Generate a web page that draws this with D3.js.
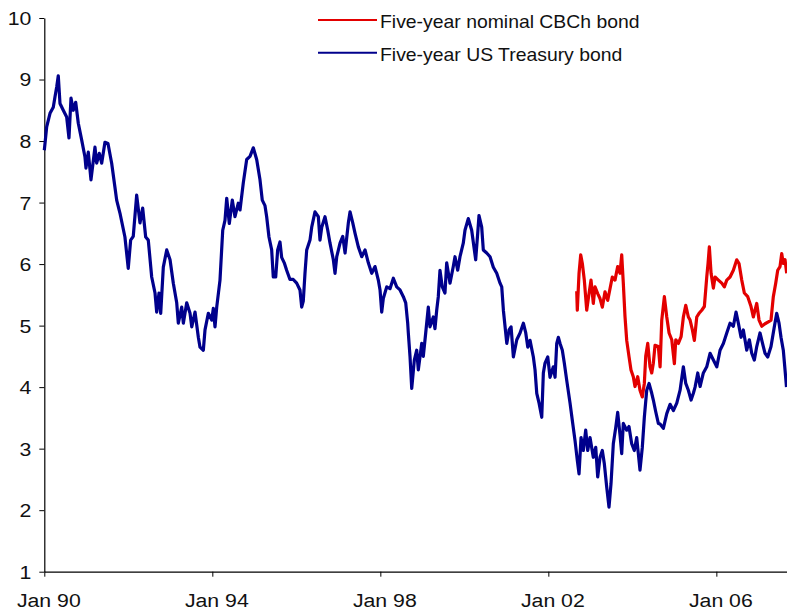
<!DOCTYPE html>
<html>
<head>
<meta charset="utf-8">
<script src="https://cdn.jsdelivr.net/npm/d3@7/dist/d3.min.js"></script>
<style>
  html, body { margin: 0; padding: 0; background: #fff; }
  svg { display: block; }
  text { font-family: "Liberation Sans", Arial, sans-serif; fill: #111; }
</style>
</head>
<body>
<svg id="chart" width="787" height="615"></svg>
<script>
// ---- Data (decimal years, yields in %) ----
const seriesNames = ["Five-year nominal CBCh bond", "Five-year US Treasury bond"];
const xTickYears = [1990, 1994, 1998, 2002, 2006];
const xTickLabels = ["Jan 90", "Jan 94", "Jan 98", "Jan 02", "Jan 06"];
const yTicks = [1, 2, 3, 4, 5, 6, 7, 8, 9, 10];

const usYears = [
1990.000,1990.057,1990.136,1990.214,1990.255,1990.295,1990.333,1990.374,1990.452,1990.533,
1990.588,1990.636,1990.690,1990.748,1990.810,1990.890,1990.969,1990.993,1991.048,1991.112,
1991.207,1991.248,1991.310,1991.367,1991.445,1991.517,1991.605,1991.683,1991.724,1991.802,
1991.921,1992.000,1992.057,1992.119,1992.200,1992.279,1992.343,1992.414,1992.476,1992.557,
1992.636,1992.676,1992.731,1992.771,1992.833,1992.914,1992.993,1993.071,1993.152,1993.190,
1993.271,1993.310,1993.390,1993.469,1993.510,1993.588,1993.667,1993.707,1993.786,1993.826,
1993.905,1993.986,1994.024,1994.064,1994.105,1994.183,1994.248,1994.302,1994.343,1994.405,
1994.476,1994.540,1994.619,1994.660,1994.738,1994.819,1994.898,1994.976,1995.057,1995.136,
1995.190,1995.255,1995.295,1995.350,1995.414,1995.452,1995.510,1995.557,1995.612,1995.652,
1995.714,1995.771,1995.850,1995.929,1996.010,1996.088,1996.129,1996.167,1996.207,1996.248,
1996.326,1996.367,1996.445,1996.524,1996.564,1996.605,1996.683,1996.748,1996.802,1996.881,
1996.921,1996.962,1997.040,1997.105,1997.160,1997.238,1997.279,1997.343,1997.398,1997.476,
1997.557,1997.636,1997.714,1997.795,1997.874,1997.952,1997.993,1998.033,1998.071,1998.152,
1998.231,1998.310,1998.390,1998.469,1998.548,1998.605,1998.652,1998.667,1998.707,1998.748,
1998.810,1998.867,1998.905,1998.986,1999.024,1999.081,1999.143,1999.183,1999.262,1999.302,
1999.343,1999.381,1999.421,1999.476,1999.540,1999.581,1999.660,1999.738,1999.779,1999.843,
1999.898,1999.976,2000.017,2000.095,2000.176,2000.271,2000.319,2000.350,2000.414,2000.452,
2000.533,2000.612,2000.690,2000.771,2000.850,2000.890,2000.929,2001.010,2001.064,2001.112,
2001.167,2001.248,2001.326,2001.405,2001.462,2001.510,2001.564,2001.643,2001.683,2001.724,
2001.779,2001.843,2001.881,2001.921,2001.986,2002.040,2002.119,2002.160,2002.200,2002.238,
2002.279,2002.333,2002.381,2002.438,2002.517,2002.581,2002.636,2002.690,2002.731,2002.779,
2002.833,2002.890,2002.938,2002.993,2003.071,2003.129,2003.176,2003.231,2003.286,2003.333,
2003.390,2003.445,2003.493,2003.548,2003.605,2003.652,2003.707,2003.748,2003.786,2003.867,
2003.921,2003.986,2004.048,2004.105,2004.183,2004.238,2004.286,2004.343,2004.398,2004.462,
2004.500,2004.557,2004.619,2004.660,2004.738,2004.819,2004.898,2004.976,2005.057,2005.136,
2005.214,2005.271,2005.333,2005.398,2005.452,2005.493,2005.557,2005.612,2005.690,2005.771,
2005.850,2005.929,2006.010,2006.088,2006.167,2006.248,2006.326,2006.405,2006.469,2006.524,
2006.588,2006.643,2006.724,2006.786,2006.843,2006.905,2006.962,2007.040,2007.119,2007.160,
2007.224,2007.302,2007.381,2007.438,2007.493,2007.540,2007.595,2007.636,2007.671
];
const usValues = [
7.85,8.23,8.45,8.55,8.72,8.88,9.06,8.61,8.50,8.39,
8.05,8.70,8.50,8.63,8.29,8.02,7.74,7.56,7.82,7.37,
7.90,7.64,7.80,7.64,7.98,7.96,7.64,7.25,7.04,6.83,
6.44,5.93,6.39,6.45,7.12,6.67,6.91,6.44,6.39,5.79,
5.53,5.22,5.53,5.20,5.95,6.23,6.07,5.69,5.37,5.04,
5.30,5.04,5.37,5.20,4.98,5.22,4.81,4.65,4.60,4.93,
5.20,5.09,5.28,4.98,5.30,5.74,6.55,6.71,7.07,6.66,
7.04,6.77,6.99,6.88,7.32,7.70,7.75,7.89,7.70,7.37,
7.04,6.95,6.77,6.44,6.23,5.79,5.79,6.23,6.36,6.11,
6.02,5.90,5.75,5.75,5.69,5.58,5.30,5.40,5.85,6.23,
6.39,6.60,6.85,6.77,6.39,6.60,6.77,6.55,6.34,6.07,
5.85,6.12,6.34,6.45,6.18,6.67,6.85,6.67,6.50,6.28,
6.12,6.23,6.02,5.85,5.96,5.74,5.58,5.22,5.44,5.63,
5.60,5.77,5.63,5.58,5.47,5.37,5.04,4.88,4.50,3.98,
4.44,4.60,4.28,4.71,4.50,4.88,5.30,4.98,5.14,4.95,
5.25,5.47,5.90,5.63,5.53,6.02,5.69,5.96,6.12,5.90,
6.12,6.34,6.55,6.74,6.55,6.07,6.50,6.79,6.60,6.23,
6.18,6.12,5.95,5.85,5.69,5.63,5.25,4.71,4.93,4.98,
4.49,4.77,4.88,5.04,4.88,4.65,4.76,4.49,4.28,3.90,
3.74,3.51,4.23,4.39,4.49,4.16,4.33,4.16,4.71,4.81,
4.71,4.60,4.39,4.11,3.74,3.41,3.13,2.81,2.59,3.18,
2.97,3.30,2.97,3.18,2.86,3.02,2.54,2.86,2.97,2.76,
2.38,2.05,2.43,3.08,3.34,3.59,3.23,2.92,3.41,3.30,
3.36,3.08,2.97,3.18,2.65,3.02,3.51,3.95,4.06,3.90,
3.79,3.60,3.41,3.40,3.33,3.57,3.72,3.62,3.74,3.95,
4.33,4.06,3.95,3.79,3.90,4.00,4.23,4.01,4.23,4.33,
4.55,4.44,4.33,4.60,4.71,4.88,5.04,4.99,5.22,5.04,
4.81,4.93,4.60,4.77,4.55,4.44,4.66,4.88,4.66,4.55,
4.49,4.66,4.98,5.20,5.04,4.81,4.60,4.28,4.00
];

const chYears = [
2002.676,2002.690,2002.731,2002.771,2002.810,2002.857,2002.914,2002.969,2003.017,2003.071,
2003.112,2003.176,2003.231,2003.286,2003.350,2003.414,2003.469,2003.524,2003.588,2003.652,
2003.707,2003.748,2003.786,2003.826,2003.867,2003.921,2003.969,2004.024,2004.064,2004.129,
2004.183,2004.238,2004.286,2004.319,2004.367,2004.421,2004.462,2004.500,2004.540,2004.619,
2004.660,2004.700,2004.762,2004.819,2004.874,2004.938,2005.000,2005.033,2005.095,2005.160,
2005.214,2005.271,2005.333,2005.374,2005.429,2005.476,2005.533,2005.588,2005.652,2005.714,
2005.771,2005.802,2005.833,2005.874,2005.929,2005.969,2006.048,2006.129,2006.190,2006.248,
2006.326,2006.405,2006.486,2006.540,2006.605,2006.667,2006.748,2006.826,2006.881,2006.921,
2006.962,2007.017,2007.081,2007.160,2007.238,2007.302,2007.357,2007.414,2007.462,2007.517,
2007.557,2007.595,2007.636,2007.676
];
const chValues = [
5.56,5.25,5.85,6.15,6.01,5.74,5.25,5.52,5.74,5.36,
5.63,5.52,5.44,5.30,5.55,5.41,5.60,5.79,5.74,5.96,
5.85,6.15,5.69,5.15,4.76,4.50,4.28,4.17,4.01,4.17,
3.95,3.84,4.06,4.50,4.71,4.33,4.23,4.39,4.68,4.66,
4.33,5.09,5.47,5.14,4.88,4.77,4.38,4.77,4.71,4.82,
5.14,5.33,5.14,5.09,4.93,4.76,5.14,5.20,5.25,5.31,
5.79,6.01,6.28,5.85,5.61,5.79,5.74,5.69,5.63,5.74,
5.79,5.90,6.07,6.01,5.74,5.53,5.47,5.31,5.14,5.25,
5.36,5.09,4.99,5.03,5.06,5.09,5.47,5.69,5.90,5.96,
6.17,6.01,6.07,5.85
];

// ---- helpers ----
function yearToDate(y) {
  const yr = Math.floor(y);
  const start = new Date(yr, 0, 1).getTime();
  const end = new Date(yr + 1, 0, 1).getTime();
  return new Date(start + (y - yr) * (end - start));
}

const usData = usYears.map((y, i) => ({ date: yearToDate(y), value: usValues[i] }));
const chData = chYears.map((y, i) => ({ date: yearToDate(y), value: chValues[i] }));

// ---- layout ----
const W = 787, H = 615;
const margin = { top: 18, right: 0, bottom: 43.3, left: 44.3 };
const svg = d3.select("#chart");
const xStretch = 1.12;
const legStretch = 1.02;

const x = d3.scaleTime()
  .domain([yearToDate(1990), yearToDate(2007.683)])
  .range([margin.left, W - margin.right]);
const y = d3.scaleLinear()
  .domain([1, 10])
  .range([H - margin.bottom, margin.top]);

// axes
const yAxis = d3.axisLeft(y).tickValues(yTicks).tickSize(5).tickSizeOuter(0).tickFormat(d3.format("d"));
const gy = svg.append("g").attr("transform", `translate(${margin.left},0)`).call(yAxis);
gy.select(".domain").attr("stroke", "#000").attr("stroke-width", 1.2);
gy.selectAll(".tick line").attr("stroke", "#000");
gy.selectAll(".tick text")
  .attr("x", -13 / xStretch)
  .attr("dy", "0.34em")
  .attr("transform", `scale(${xStretch},1)`)
  .style("font-size", "19px")
  .style("font-family", "'Liberation Sans', Arial, sans-serif")
  .attr("fill", "#111");

const xAxis = d3.axisBottom(x)
  .tickValues(xTickYears.map(yearToDate))
  .tickFormat((d, i) => xTickLabels[i])
  .tickSize(5).tickSizeOuter(0);
const gx = svg.append("g").attr("transform", `translate(0,${H - margin.bottom})`).call(xAxis);
gx.select(".domain").attr("stroke", "#000").attr("stroke-width", 1.2);
gx.selectAll(".tick line").attr("stroke", "#000");
gx.selectAll(".tick text")
  .attr("x", 4 / xStretch)
  .attr("y", 35.3)
  .attr("dy", 0)
  .attr("transform", `scale(${xStretch},1)`)
  .style("font-size", "19px")
  .style("font-family", "'Liberation Sans', Arial, sans-serif")
  .attr("fill", "#111");

// lines
const line = d3.line().x(d => x(d.date)).y(d => y(d.value));
const colors = ["#e30000", "#00008c"];

svg.append("path").datum(usData)
  .attr("fill", "none").attr("stroke", colors[1]).attr("stroke-width", 3.2)
  .attr("stroke-linejoin", "round").attr("d", line);
svg.append("path").datum(chData)
  .attr("fill", "none").attr("stroke", colors[0]).attr("stroke-width", 3.2)
  .attr("stroke-linejoin", "round").attr("d", line);

// legend
const legendY = [20, 52.7];
const leg = svg.append("g");
seriesNames.forEach((name, i) => {
  leg.append("line")
    .attr("x1", 318).attr("x2", 377)
    .attr("y1", legendY[i]).attr("y2", legendY[i])
    .attr("stroke", colors[i]).attr("stroke-width", 2);
  leg.append("text")
    .attr("transform", `translate(380,${legendY[i] + 8.2}) scale(${legStretch},1)`)
    .style("font-size", "19px")
    .text(name);
});
</script>
</body>
</html>
